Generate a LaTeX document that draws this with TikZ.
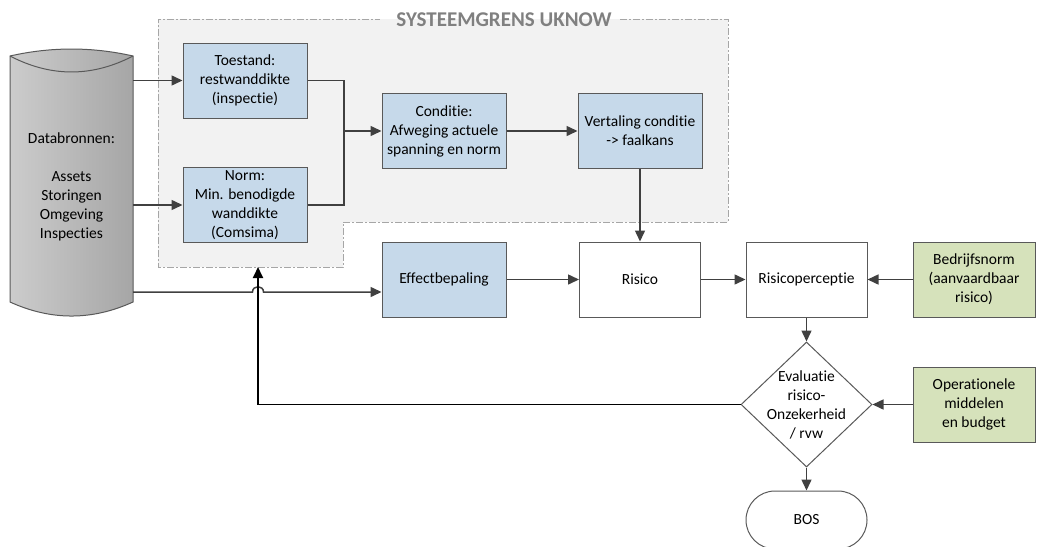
\documentclass[tikz,border=0pt]{standalone}
\usepackage{fontspec}
\setmainfont{Carlito}[Ligatures=NoCommon]
\usetikzlibrary{shapes.geometric, arrows.meta}
\definecolor{blauw}{HTML}{C6D9EA}
\definecolor{groen}{HTML}{D6E2BB}
\definecolor{randgrijs}{HTML}{595959}
\definecolor{pijlgrijs}{HTML}{404040}
\definecolor{grensgrijs}{HTML}{A6A6A6}
\definecolor{grensvlak}{HTML}{F2F2F2}

\begin{document}
\begin{tikzpicture}[x=1pt, y=-1pt,
    every node/.style={font=\fontsize{15.5}{19}\selectfont, align=center},
    blok/.style={draw=randgrijs, line width=1pt, fill=blauw, minimum width=124pt, minimum height=75pt, inner sep=2pt},
    wit/.style={blok, fill=white, minimum width=121pt},
    extern/.style={blok, fill=groen, minimum width=122pt},
    pijl/.style={draw=pijlgrijs, line width=1.5pt, -{Triangle[length=11pt, width=10pt]}},
    terug/.style={draw=black, line width=1.8pt, -{Triangle[length=11pt, width=10pt]}}]

    \useasboundingbox (0,0) rectangle (1038,546);

    \fill [grensvlak] (158,19) -- (728,19) -- (728,222) -- (343,222) -- (343,267) -- (158,267) -- cycle;
    \draw [grensgrijs, line width=1pt, dash pattern=on 7pt off 2pt on 2pt off 2pt] (620,19) -- (728,19) -- (728,222) -- (343,222) -- (343,267) -- (158,267) -- (158,19) -- (380,19);
    \node (grens) [font=\fontsize{21}{25}\selectfont\bfseries, text=gray] at (504,20) {SYSTEEMGRENS UKNOW};

    \shade [left color=black!20, right color=black!35, draw=randgrijs, line width=1pt] (10,56) -- (10,302) .. controls (51,320.7) and (92,320.7) .. (133,302) -- (133,56) .. controls (92,46.7) and (51,46.7) .. (10,56) -- cycle;
    \draw [randgrijs, line width=1pt] (10,56) .. controls (51,77.3) and (92,77.3) .. (133,56);
    \node (databronnen) [minimum width=123pt] at (71.5,186.5) {Databronnen:\\[19pt]Assets\\Storingen\\Omgeving\\Inspecties};

    \node (toestand) [blok] at (245,80.5) {Toestand:\\restwanddikte\\(inspectie)};
    \node (norm) [blok] at (245,205) {Norm:\\Min. benodigde\\wanddikte\\(Comsima)};
    \node (conditie) [blok] at (444,131) {Conditie:\\Afweging actuele\\spanning en norm};
    \node (vertaling) [blok] at (640,131) {Vertaling conditie\\-> faalkans};
    \node (effect) [blok] at (444,279.5) {Effectbepaling};
    \node (risico) [wit] at (640,279.5) {Risico};
    \node (perceptie) [wit] at (806.5,279.5) {Risicoperceptie};
    \node (bedrijfsnorm) [extern] at (974,279.5) {Bedrijfsnorm\\(aanvaardbaar\\risico)};
    \node (middelen) [extern] at (974,404.5) {Operationele\\middelen\\en budget};
    \node (evaluatie) [draw=randgrijs, line width=1pt, diamond, minimum width=131pt, minimum height=125pt, inner sep=0pt] at (806.5,404.5) {};
    \node (evaltekst) at (evaluatie) {Evaluatie\\risico-\\Onzekerheid\\/ rvw};
    \node (bos) [draw=randgrijs, line width=1pt, rounded corners=29pt, minimum width=121pt, minimum height=58pt] at (806.5,520) {BOS};

    \coordinate (samen) at (344,131);
    \coordinate (grensonder) at (258,267);

    \draw [pijl] (databronnen.east |- toestand.west) -- (toestand.west);
    \draw [pijl] (databronnen.east |- norm.west) -- (norm.west);
    \draw [pijlgrijs, line width=1.5pt] (toestand.east) -| (samen);
    \draw [pijl] (norm.east) -| (samen) -- (conditie.west);
    \foreach \van/\naar in {conditie/vertaling, vertaling/risico, effect/risico, risico/perceptie, bedrijfsnorm/perceptie, perceptie/evaluatie, middelen/evaluatie, evaluatie/bos}
        \draw [pijl] (\van) -- (\naar);
    \draw [pijl] (databronnen.east |- 0,292) -- (252.5,292) .. controls (252.5,285) and (263.5,285) .. (263.5,292) -- (effect.west |- 0,292);
    \draw [terug] (evaluatie.west) -| (grensonder);

\end{tikzpicture}
\end{document}
